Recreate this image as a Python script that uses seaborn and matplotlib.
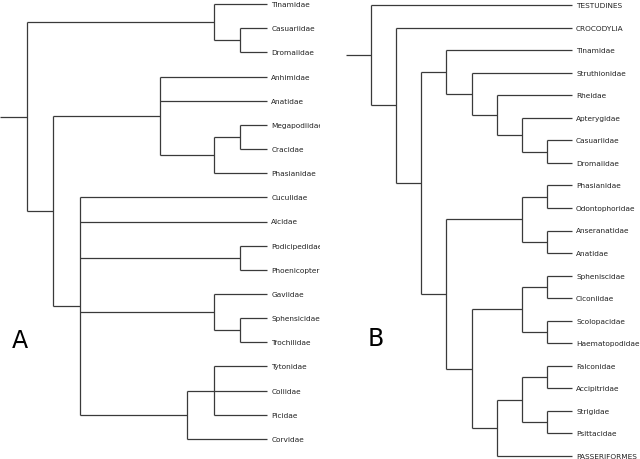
import matplotlib
matplotlib.use("Agg")
import matplotlib.pyplot as plt
from matplotlib.transforms import Bbox
import seaborn as sns
import pandas as pd

sns.set_theme(style="white")
plt.rcParams['font.family'] = ['DejaVu Sans']

# Tree A: (depth, [children]) ; leaves are strings at depth 10
leaves_A = ["Tinamidae", "Casuariidae", "Dromaiidae", "Anhimidae", "Anatidae",
            "Megapodiidae", "Cracidae", "Phasianidae", "Cuculidae", "Alcidae",
            "Podicipedidae", "Phoenicopteri", "Gaviidae", "Sphensicidae",
            "Trochilidae", "Tytonidae", "Coliidae", "Picidae", "Corvidae"]
tree_A = (1, [
    (8, ["Tinamidae", (9, ["Casuariidae", "Dromaiidae"])]),
    (2, [
        (6, ["Anhimidae", "Anatidae",
             (8, [(9, ["Megapodiidae", "Cracidae"]), "Phasianidae"])]),
        (3, ["Cuculidae", "Alcidae",
             (9, ["Podicipedidae", "Phoenicopteri"]),
             (8, ["Gaviidae", (9, ["Sphensicidae", "Trochilidae"])]),
             (7, [(8, ["Tytonidae", "Coliidae", "Picidae"]), "Corvidae"])]),
    ]),
])
leaf_depth_A = 10

leaves_B = ["TESTUDINES", "CROCODYLIA", "Tinamidae", "Struthionidae", "Rheidae",
            "Apterygidae", "Casuariidae", "Dromaiidae", "Phasianidae",
            "Odontophoridae", "Anseranatidae", "Anatidae", "Spheniscidae",
            "Ciconiidae", "Scolopacidae", "Haematopodidae", "Falconidae",
            "Accipitridae", "Strigidae", "Psittacidae", "PASSERIFORMES"]
tree_B = (1, ["TESTUDINES",
    (2, ["CROCODYLIA",
        (3, [
            (4, ["Tinamidae",
                (5, ["Struthionidae",
                    (6, ["Rheidae",
                        (7, ["Apterygidae", (8, ["Casuariidae", "Dromaiidae"])])])])]),
            (4, [
                (7, [(8, ["Phasianidae", "Odontophoridae"]),
                     (8, ["Anseranatidae", "Anatidae"])]),
                (5, [
                    (7, [(8, ["Spheniscidae", "Ciconiidae"]),
                         (8, ["Scolopacidae", "Haematopodidae"])]),
                    (6, [
                        (7, [(8, ["Falconidae", "Accipitridae"]),
                             (8, ["Strigidae", "Psittacidae"])]),
                        "PASSERIFORMES"]),
                ]),
            ]),
        ]),
    ]),
])
leaf_depth_B = 9


def layout(tree, leaves, leaf_depth):
    segs = []

    def rec(node):
        if isinstance(node, str):
            return float(leaves.index(node)), float(leaf_depth)
        depth, kids = node
        pos = [rec(k) for k in kids]
        ys = [p[0] for p in pos]
        for y, x in pos:
            segs.append(((depth, y), (x, y)))
        segs.append(((depth, ys[0]), (depth, ys[-1])))
        return (ys[0] + ys[-1]) / 2.0, depth

    ry, rx = rec(tree)
    segs.append(((0, ry), (rx, ry)))
    rows = []
    for i, ((x0, y0), (x1, y1)) in enumerate(segs):
        rows.append(dict(seg=i, x=x0, y=y0, order=0))
        rows.append(dict(seg=i, x=x1, y=y1, order=1))
    return pd.DataFrame(rows)


fig = plt.figure(figsize=(6.4, 4.6), dpi=100)
W, H = 640.0, 460.0

axA = fig.add_axes([0 / W, (H - 440) / H, 267 / W, (440 - 5) / H])
axB = fig.add_axes([346 / W, (H - 457) / H, (572 - 346) / W, (457 - 6) / H])

clipA = Bbox.from_extents(0, 0, 320, 460)

for ax, tree, leaves, ld in [(axA, tree_A, leaves_A, leaf_depth_A),
                             (axB, tree_B, leaves_B, leaf_depth_B)]:
    df = layout(tree, leaves, ld)
    sns.lineplot(data=df, x="x", y="y", units="seg", estimator=None,
                 sort=False, color="#3a3a3a", linewidth=0.9, ax=ax,
                 legend=False)
    for line in ax.lines:
        line.set_clip_on(False)
        line.set_solid_capstyle("butt")
    for i, name in enumerate(leaves):
        t = ax.text(ld + 0.16, i, name, fontsize=5.3, va="center", ha="left",
                    color="#222222")
        if ax is axA:
            t.set_clip_on(True)
            t.set_clip_box(clipA)
        else:
            t.set_clip_on(False)
    ax.set_xlim(0, ld)
    ax.set_ylim(len(leaves) - 1, 0)
    ax.set_axis_off()

fig.text(20 / W, 1 - 341 / H, "A", fontsize=17, ha="center", va="center",
         color="black")
fig.text(376 / W, 1 - 339 / H, "B", fontsize=17, ha="center", va="center",
         color="black")

fig.savefig("out.png", dpi=100, facecolor="white")
